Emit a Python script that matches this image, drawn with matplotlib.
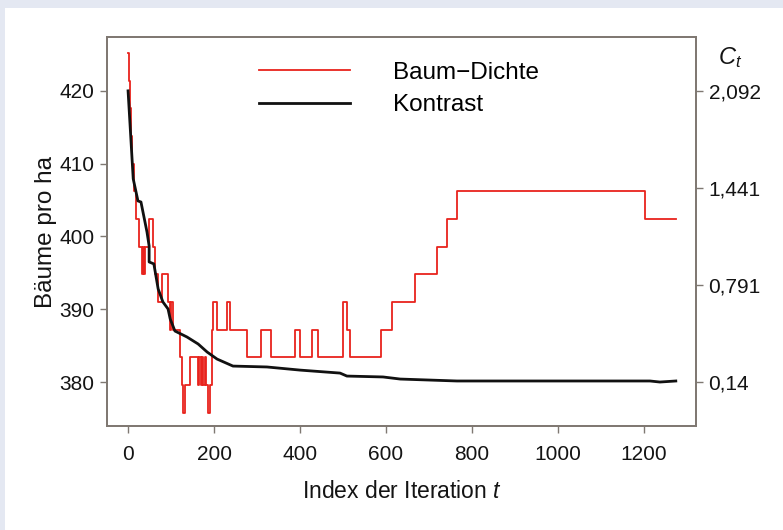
import matplotlib
matplotlib.use("Agg")
import matplotlib.pyplot as plt
from matplotlib.patches import Rectangle

plt.rcParams["font.family"] = ["Liberation Sans", "DejaVu Sans"]
plt.rcParams["mathtext.fontset"] = "custom"
plt.rcParams["mathtext.it"] = "Liberation Sans:italic"
plt.rcParams["mathtext.rm"] = "Liberation Sans"

# -------------------------
# Data
# -------------------------

# tree density (left axis), step function
iter_density = [0, 2, 4, 7, 10, 14, 19, 26, 32, 35, 37, 40, 48, 58, 62, 70,
                78, 93, 98, 100, 104, 121, 126, 128, 133, 144, 163, 166, 170, 172,
                175, 178, 182, 186, 190, 195, 198, 207, 230, 237, 277, 309, 333,
                388, 400, 428, 442, 500, 509, 516, 588, 614, 667, 719, 742, 765,
                1202, 1274]
density = [425.2, 421.4, 417.6, 413.8, 410.0, 406.2, 402.4, 398.6, 394.8, 398.6,
           394.8, 398.6, 402.4, 398.6, 394.8, 391.0, 394.8, 391.0, 387.2, 391.0,
           387.2, 383.4, 379.6, 375.8, 379.6, 383.4, 379.6, 383.4, 379.6, 383.4,
           379.6, 383.4, 379.6, 375.8, 379.6, 387.2, 391.0, 387.2, 391.0, 387.2,
           383.4, 387.2, 383.4, 387.2, 383.4, 387.2, 383.4, 391.0, 387.2, 383.4,
           387.2, 391.0, 394.8, 398.6, 402.4, 406.2, 402.4, 402.4]

# contrast C_t (right axis)
iter_contrast = [0, 12, 23, 30, 44, 49, 49, 60, 70, 81, 93, 98, 109, 137, 163,
                 184, 207, 244, 323, 400, 493, 509, 593, 633, 765, 1214, 1237, 1274]
contrast = [2.092, 1.502, 1.354, 1.347, 1.146, 1.052, 0.945, 0.932, 0.764, 0.677,
            0.630, 0.563, 0.482, 0.442, 0.395, 0.341, 0.294, 0.247, 0.241, 0.220,
            0.200, 0.180, 0.174, 0.160, 0.147, 0.147, 0.140, 0.147]

x_ticks = [0, 200, 400, 600, 800, 1000, 1200]
left_ticks = [380, 390, 400, 410, 420]
right_ticks = [0.14, 0.791, 1.441, 2.092]
right_labels = ["0,14", "0,791", "1,441", "2,092"]

# -------------------------
# Figure
# -------------------------

fig = plt.figure(figsize=(7.83, 5.30), dpi=100)
fig.patch.set_facecolor("#e4e8f2")
fig.patches.append(Rectangle((5 / 783, 0), 1, 522 / 530, transform=fig.transFigure,
                             facecolor="white", edgecolor="none", zorder=-1))

ax = fig.add_axes([107 / 783, 1 - 426 / 530, 589 / 783, 389 / 530])
ax2 = ax.twinx()

red = "#e8231d"
spine_col = "#7f7872"
text_col = "#141414"

ax.step(iter_density, density, where="post", color=red, lw=1.3, label="Baum\u2212Dichte")
ax2.plot(iter_contrast, contrast, color="#111111", lw=2.0, label="Kontrast")

ax.set_xlim(-49, 1321)
ylim = (373.96, 427.4)
ax.set_ylim(ylim)
# right axis is a linear map of the left one: 380 -> 0.14, 420 -> 2.092
scale = (2.092 - 0.14) / 40
ax2.set_ylim(0.14 + (ylim[0] - 380) * scale, 0.14 + (ylim[1] - 380) * scale)

ax.set_xticks(x_ticks)
ax.set_yticks(left_ticks)
ax2.set_yticks(right_ticks)
ax2.set_yticklabels(right_labels)

for a in (ax, ax2):
    for s in a.spines.values():
        s.set_color(spine_col)
        s.set_linewidth(1.3)
    a.tick_params(colors=spine_col, labelcolor=text_col, labelsize=15,
                  length=5, width=1)
ax.tick_params(axis="x", pad=9)
ax.tick_params(axis="y", pad=4)
ax2.tick_params(axis="y", pad=4)

ax.set_xlabel("Index der Iteration $t$", fontsize=16.5, labelpad=11, color=text_col)
ax.set_ylabel("B\u00e4ume pro ha", fontsize=17.5, labelpad=2, color=text_col)
ax2.text(1.058, 0.947, "$C_t$", transform=ax2.transAxes, fontsize=17,
         ha="center", va="center", color=text_col)

h1, l1 = ax.get_legend_handles_labels()
h2, l2 = ax2.get_legend_handles_labels()
ax2.legend(h1 + h2, l1 + l2, loc="upper left", bbox_to_anchor=(0.258, 0.937),
           frameon=False, fontsize=17.5, handlelength=3.75, handletextpad=1.75,
           labelspacing=0.45, borderpad=0, borderaxespad=0)

fig.savefig("out.png", dpi=100, facecolor=fig.get_facecolor())
